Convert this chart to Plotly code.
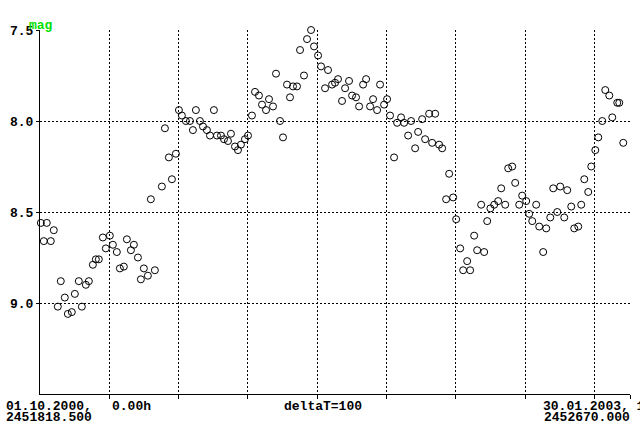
import plotly.graph_objects as go

JD0 = 2451818.5
JD_END = 2452670.0

# days since JD 2451818.5
days = [-3.2, 1.2, 5.5, 9.8, 15.6, 19.9, 25.7, 30.0, 35.8, 40.2,
        45.9, 50.3, 56.0, 60.4, 66.2, 70.5, 76.3, 80.6, 84.9, 90.7,
        95.0, 100.8, 105.2, 110.9, 115.3, 121.0, 125.4, 131.2, 135.5, 141.3,
        145.6, 149.9, 155.7, 160.0, 165.8, 175.9, 180.3, 186.0, 190.4, 196.1,
        200.5, 204.8, 210.6, 216.4, 220.7, 225.0, 230.8, 235.2, 240.9, 245.3,
        251.0, 255.4, 261.2, 265.5, 271.3, 275.6, 281.4, 285.7, 290.0, 295.8,
        300.2, 305.9, 310.3, 316.0, 320.4, 326.2, 330.5, 336.3, 340.6, 346.4,
        350.7, 356.5, 360.8, 365.1, 370.9, 375.3, 381.0, 385.4, 391.2, 395.5,
        401.3, 405.6, 411.4, 415.7, 421.5, 425.8, 430.1, 435.9, 440.3, 446.0,
        450.4, 456.1, 460.5, 466.3, 470.6, 476.4, 480.7, 486.5, 490.8, 496.6,
        500.9, 505.2, 511.0, 515.4, 521.1, 525.5, 531.3, 535.6, 541.4, 545.7,
        551.5, 555.8, 561.6, 565.9, 570.3, 576.0, 580.4, 586.1, 590.5, 596.3,
        600.6, 606.4, 610.7, 616.5, 620.8, 626.6, 630.9, 636.7, 641.0, 645.4,
        650.0, 655.5, 661.2, 665.6, 671.4, 675.7, 681.5, 685.8, 691.6, 695.9,
        701.7, 706.0, 710.4, 716.1, 720.5, 726.2, 730.6, 736.4, 740.7, 746.5,
        750.8, 756.6, 760.9, 766.7, 771.0, 776.8, 781.1, 785.5, 791.2, 795.6,
        801.4, 805.7, 811.5, 815.8, 821.6, 825.9, 833.1, 836.0, 841.8]

mags = [8.76, 8.56, 8.66, 8.56, 8.66, 8.60, 9.02, 8.88, 8.97, 9.06,
        9.05, 8.95, 8.88, 9.02, 8.90, 8.88, 8.79, 8.76, 8.76, 8.64,
        8.70, 8.63, 8.68, 8.72, 8.81, 8.80, 8.65, 8.71, 8.68, 8.75,
        8.87, 8.81, 8.85, 8.43, 8.82, 8.36, 8.04, 8.20, 8.32, 8.18,
        7.94, 7.97, 8.00, 8.00, 8.05, 7.94, 8.00, 8.03, 8.05, 8.08,
        7.94, 8.08, 8.08, 8.10, 8.11, 8.07, 8.14, 8.16, 8.13, 8.10,
        8.08, 7.97, 7.84, 7.86, 7.91, 7.94, 7.88, 7.92, 7.74, 8.00,
        8.09, 7.80, 7.87, 7.81, 7.81, 7.61, 7.75, 7.55, 7.50, 7.59,
        7.64, 7.70, 7.82, 7.72, 7.80, 7.79, 7.77, 7.89, 7.82, 7.78,
        7.86, 7.87, 7.92, 7.80, 7.77, 7.92, 7.88, 7.94, 7.80, 7.91,
        7.88, 7.97, 8.20, 8.01, 7.98, 8.01, 8.08, 8.00, 8.15, 8.06,
        7.99, 8.10, 7.96, 8.12, 7.96, 8.13, 8.15, 8.43, 8.29, 8.42,
        8.54, 8.70, 8.82, 8.77, 8.82, 8.63, 8.71, 8.46, 8.72, 8.55,
        8.48, 8.46, 8.44, 8.37, 8.46, 8.26, 8.25, 8.34, 8.46, 8.41,
        8.44, 8.51, 8.55, 8.46, 8.58, 8.72, 8.59, 8.53, 8.37, 8.50,
        8.36, 8.53, 8.38, 8.47, 8.59, 8.58, 8.46, 8.32, 8.39, 8.25,
        8.16, 8.09, 8.00, 7.83, 7.86, 7.98, 7.90, 7.90, 8.12]

y_ticks = [7.5, 8.0, 8.5, 9.0]
y_tick_text = ["7.5", "8.0", "8.5", "9.0"]
delta_t = 100
grid_jd = [JD0 + delta_t * k for k in range(1, 9)]

start_date = "01.10.2000,"
start_jd = "2451818.500"
start_time = "0.00h"
end_date = "30.01.2003, 12.00h"
end_jd = "2452670.000"
mid_label = "deltaT=100"

FONT = dict(family="Liberation Mono", size=13, color="black", weight="bold")

jd = [JD0 + d for d in days]

fig = go.Figure()
fig.add_trace(go.Scatter(
    x=jd, y=mags, mode="markers",
    marker=dict(symbol="circle-open", size=7, color="black",
                line=dict(width=1, color="black")),
    cliponaxis=False, showlegend=False, hoverinfo="skip"))
# second axis used only for the end tick
fig.add_trace(go.Scatter(x=[JD_END], y=[None], xaxis="x2", showlegend=False,
                         mode="markers", hoverinfo="skip"))

fig.update_layout(
    width=640, height=424,
    margin=dict(l=40, r=10, t=30, b=30),
    paper_bgcolor="white", plot_bgcolor="white",
    font=FONT,
    xaxis=dict(range=[JD0, JD_END], tickvals=grid_jd, showticklabels=False,
               ticks="outside", ticklen=4, tickcolor="black", tickwidth=1,
               showgrid=True, gridcolor="black", gridwidth=1, griddash="2px,2px",
               showline=True, linecolor="black", linewidth=1, zeroline=False),
    xaxis2=dict(range=[JD0, JD_END], overlaying="x", anchor="y", side="bottom",
                tickvals=[JD_END], showticklabels=False, ticks="outside",
                ticklen=4, tickcolor="black", showgrid=False, showline=False,
                zeroline=False),
    yaxis=dict(range=[9.5, 7.5], tickvals=y_ticks, ticktext=y_tick_text,
               ticks="outside", ticklen=3, tickcolor="black",
               showgrid=True, gridcolor="black", gridwidth=1, griddash="2px,2px",
               showline=True, linecolor="black", linewidth=1, zeroline=False,
               tickfont=FONT),
)

def px_x(p):
    return (p - 40) / 590.0

def px_y(p):
    return (394 - p) / 364.0

ann = [
    (start_date, 4, 406.5, "left"),
    (start_jd, 4, 417, "left"),
    (start_time, 110, 406.5, "left"),
    (mid_label, 282, 406.5, "left"),
    (end_date, 541, 406.5, "left"),
    (end_jd, 542, 417, "left"),
]
for text, x, y, anchor in ann:
    fig.add_annotation(text=text, xref="paper", yref="paper",
                       x=px_x(x), y=px_y(y), xanchor=anchor, yanchor="middle",
                       showarrow=False, font=FONT)

fig.add_annotation(text="mag", xref="paper", yref="paper",
                   x=px_x(27), y=px_y(25), xanchor="left", yanchor="middle",
                   showarrow=False,
                   font=dict(family="Liberation Mono", size=13, color="#00e000",
                             weight="bold"))

fig.write_html("out.html", config={"displayModeBar": False},
               post_script="document.body.style.margin='0';document.body.style.overflow='hidden';")
